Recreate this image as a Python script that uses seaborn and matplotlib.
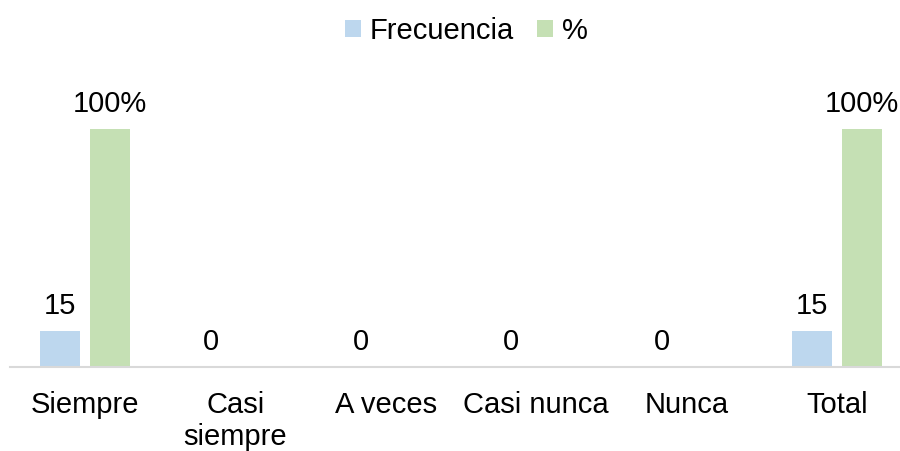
import numpy as np
import pandas as pd
import matplotlib
matplotlib.use("Agg")
import matplotlib.pyplot as plt
import seaborn as sns
from matplotlib.patches import Patch

# datos
categorias = ["Siempre", "Casi\nsiempre", "A veces", "Casi nunca", "Nunca", "Total"]
frecuencia = [15, 0, 0, 0, 0, 15]
porcentaje = [100, np.nan, np.nan, np.nan, np.nan, 100]
series = ["Frecuencia", "%"]
colores = ["#BDD7EE", "#C5E0B4"]

df = pd.DataFrame({
    "Categoria": categorias * 2,
    "Valor": frecuencia + porcentaje,
    "Serie": [series[0]] * len(categorias) + [series[1]] * len(categorias),
})

sns.set_style("white")
plt.rcParams["font.family"] = ["Liberation Sans", "DejaVu Sans"]
plt.rcParams["text.color"] = "#000000"

fs = 21

fig = plt.figure(figsize=(9, 4.51), dpi=100)
ax = fig.add_axes([10 / 900, 1 - 367 / 451, 902 / 900, 285.6 / 451])

sns.barplot(data=df, x="Categoria", y="Valor", hue="Serie", order=categorias,
            hue_order=series, palette=colores, width=0.665, gap=0.2,
            errorbar=None, saturation=1, linewidth=0, ax=ax, legend=False)

ax.set_xlim(-0.5, 5.5)
ax.set_ylim(0, 120)

# etiquetas de datos
for cont, serie in zip(ax.containers, series):
    etiquetas = []
    for b in cont:
        h = b.get_height()
        if np.isnan(h):
            etiquetas.append("")
        elif serie == "%":
            etiquetas.append(f"{h:.0f}%")
        else:
            etiquetas.append(f"{h:.0f}")
    ax.bar_label(cont, labels=etiquetas, padding=8, fontsize=fs, color="#000000")

for s in ["top", "left", "right"]:
    ax.spines[s].set_visible(False)
ax.spines["bottom"].set_color("#D9D9D9")
ax.spines["bottom"].set_linewidth(1.5)
ax.set_yticks([])
ax.set_xlabel("")
ax.set_ylabel("")
ax.tick_params(axis="x", length=0, pad=17, labelsize=fs, labelcolor="#000000")
for t in ax.get_xticklabels():
    t.set_linespacing(1.18)

handles = [Patch(facecolor=c, edgecolor="none") for c in colores]
fig.legend(handles, series, loc="center", bbox_to_anchor=(0.518, 0.932), ncol=2,
           frameon=False, fontsize=fs, handlelength=0.55, handleheight=0.55,
           handletextpad=0.3, columnspacing=0.8, labelcolor="#000000")

fig.savefig("out.png", dpi=100)
